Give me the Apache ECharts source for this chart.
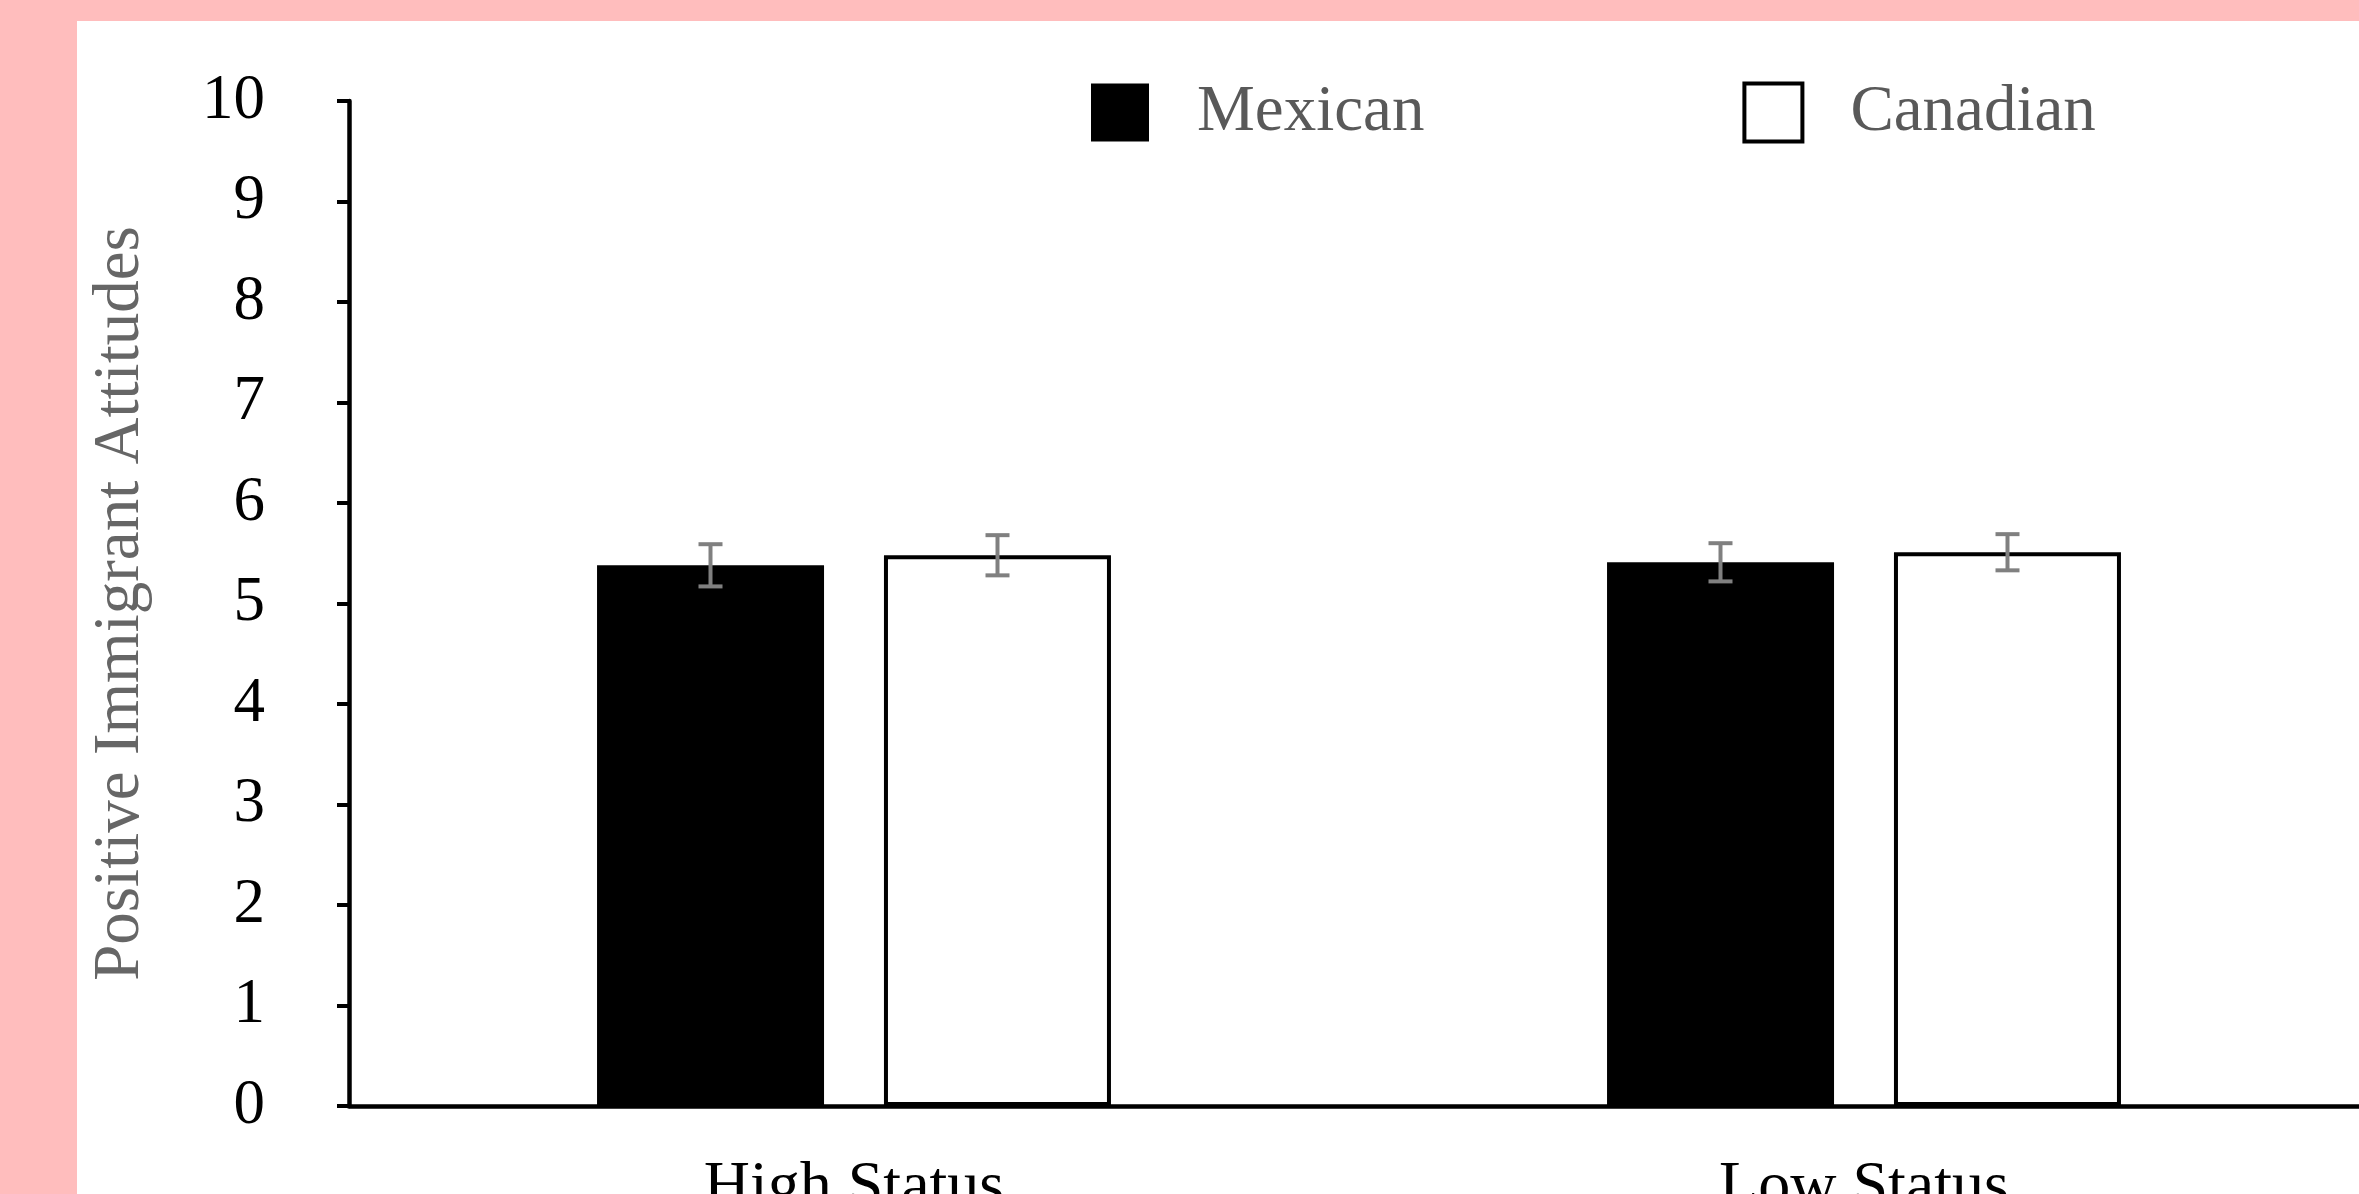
<!DOCTYPE html>
<html>
<head>
<meta charset="utf-8">
<script src="https://cdn.jsdelivr.net/npm/echarts@6/dist/echarts.min.js"></script>
<style>
html,body{margin:0;padding:0;width:2359px;height:1194px;background:#ffbdbd;overflow:hidden;}
#chart{position:absolute;left:77px;top:21px;width:2282px;height:1173px;background:#ffffff;}
</style>
</head>
<body>
<div id="chart"></div>
<script>
const categories = ['High Status', 'Low Status'];
const seriesNames = ['Mexican', 'Canadian'];
const mexican = [5.38, 5.41];
const canadian = [5.48, 5.51];
const mexicanErr = [0.21, 0.19];
const canadianErr = [0.20, 0.18];
const yMin = 0, yMax = 10, yInterval = 1;
const yAxisTitle = 'Positive Immigrant Attitudes';

const BAR_W = 227, GAP_PX = 60;
const FONT = '"Liberation Serif", "Times New Roman", serif';

function errRender(offsetSign) {
  return function (params, api) {
    const i = api.value(0), v = api.value(1), e = api.value(2);
    const c = api.coord([i, v]);
    const hi = api.coord([i, v + e]);
    const lo = api.coord([i, v - e]);
    const x = c[0] + offsetSign * (BAR_W + GAP_PX) / 2;
    const cap = 12;
    const st = {stroke: '#808080', lineWidth: 4};
    return {
      type: 'group',
      children: [
        {type: 'line', shape: {x1: x, y1: hi[1], x2: x, y2: lo[1]}, style: st},
        {type: 'line', shape: {x1: x - cap, y1: hi[1], x2: x + cap, y2: hi[1]}, style: st},
        {type: 'line', shape: {x1: x - cap, y1: lo[1], x2: x + cap, y2: lo[1]}, style: st}
      ]
    };
  };
}

const chart = echarts.init(document.getElementById('chart'), null, {renderer: 'canvas'});
chart.setOption({
  animation: false,
  backgroundColor: '#ffffff',
  grid: {left: 272, right: -10, top: 80, bottom: 88, containLabel: false, outerBoundsMode: 'none'},
  legend: {
    left: 1009, top: 54,
    itemWidth: 58, itemHeight: 58, itemGap: 318,
    icon: 'rect',
    data: [
      {name: seriesNames[0], itemStyle: {color: '#000000', borderWidth: 0}},
      {name: seriesNames[1], itemStyle: {color: '#ffffff', borderColor: '#000000', borderWidth: 4}}
    ],
    textStyle: {fontFamily: FONT, fontSize: 65, color: '#595959', padding: [0, 0, 0, 43]}
  },
  xAxis: {
    type: 'category',
    data: categories,
    axisLine: {show: true, lineStyle: {color: '#000', width: 4.5}},
    axisTick: {show: false},
    axisLabel: {fontFamily: FONT, fontSize: 64, color: '#000', margin: 50}
  },
  yAxis: {
    type: 'value',
    min: yMin, max: yMax, interval: yInterval,
    name: yAxisTitle,
    nameLocation: 'middle',
    nameGap: 196,
    nameMoveOverlap: false,
    nameTextStyle: {fontFamily: FONT, fontSize: 65, color: '#666666'},
    splitLine: {show: false},
    axisLine: {show: true, lineStyle: {color: '#000', width: 4.5}},
    axisTick: {show: true, inside: false, length: 12, lineStyle: {color: '#000', width: 4}},
    axisLabel: {fontFamily: FONT, fontSize: 63, color: '#000', margin: 84}
  },
  series: [
    {
      name: seriesNames[0], type: 'bar', data: mexican,
      barWidth: BAR_W, barGap: (GAP_PX / BAR_W * 100).toFixed(1) + '%',
      itemStyle: {color: '#000000'}
    },
    {
      name: seriesNames[1], type: 'bar', data: canadian,
      barWidth: BAR_W,
      itemStyle: {color: '#ffffff', borderColor: '#000000', borderWidth: 4}
    },
    {
      name: 'errMexican', type: 'custom', z: 5,
      data: mexican.map((v, i) => [i, v, mexicanErr[i]]),
      renderItem: errRender(-1)
    },
    {
      name: 'errCanadian', type: 'custom', z: 5,
      data: canadian.map((v, i) => [i, v, canadianErr[i]]),
      renderItem: errRender(1)
    }
  ]
});
</script>
</body>
</html>
